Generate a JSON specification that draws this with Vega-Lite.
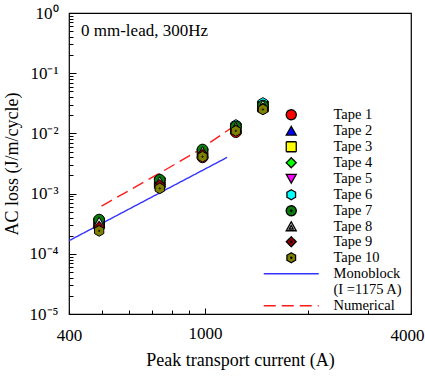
{
  "$schema": "https://vega.github.io/schema/vega-lite/v6.json",
  "width": 342,
  "height": 301,
  "autosize": {"type": "none"},
  "padding": {"left": 69, "top": 13, "right": 14, "bottom": 62},
  "title": {"text": "0 mm-lead, 300Hz", "anchor": "start", "orient": "top", "frame": "group", "offset": -36, "dx": 12, "font": "Liberation Serif", "fontSize": 17, "fontWeight": "normal", "color": "black"},
  "datasets": {
    "tapes": [
      {"current": 490, "loss": 0.00031, "series": "Tape 1"},
      {"current": 490, "loss": 0.00033, "series": "Tape 2"},
      {"current": 490, "loss": 0.00032, "series": "Tape 3"},
      {"current": 490, "loss": 0.00035, "series": "Tape 4"},
      {"current": 490, "loss": 0.00030, "series": "Tape 5"},
      {"current": 490, "loss": 0.00034, "series": "Tape 6"},
      {"current": 490, "loss": 0.00037, "series": "Tape 7"},
      {"current": 490, "loss": 0.00033, "series": "Tape 8"},
      {"current": 490, "loss": 0.00028, "series": "Tape 9"},
      {"current": 490, "loss": 0.00024, "series": "Tape 10"},
      {"current": 737, "loss": 0.00145, "series": "Tape 1"},
      {"current": 737, "loss": 0.00155, "series": "Tape 2"},
      {"current": 737, "loss": 0.0015, "series": "Tape 3"},
      {"current": 737, "loss": 0.00175, "series": "Tape 4"},
      {"current": 737, "loss": 0.0015, "series": "Tape 5"},
      {"current": 737, "loss": 0.0016, "series": "Tape 6"},
      {"current": 737, "loss": 0.0017, "series": "Tape 7"},
      {"current": 737, "loss": 0.00155, "series": "Tape 8"},
      {"current": 737, "loss": 0.0014, "series": "Tape 9"},
      {"current": 737, "loss": 0.00122, "series": "Tape 10"},
      {"current": 983, "loss": 0.0040, "series": "Tape 1"},
      {"current": 983, "loss": 0.0048, "series": "Tape 2"},
      {"current": 983, "loss": 0.0046, "series": "Tape 3"},
      {"current": 983, "loss": 0.0053, "series": "Tape 4"},
      {"current": 983, "loss": 0.0046, "series": "Tape 5"},
      {"current": 983, "loss": 0.0050, "series": "Tape 6"},
      {"current": 983, "loss": 0.0054, "series": "Tape 7"},
      {"current": 983, "loss": 0.0049, "series": "Tape 8"},
      {"current": 983, "loss": 0.0045, "series": "Tape 9"},
      {"current": 983, "loss": 0.0041, "series": "Tape 10"},
      {"current": 1230, "loss": 0.0105, "series": "Tape 1"},
      {"current": 1230, "loss": 0.0125, "series": "Tape 2"},
      {"current": 1230, "loss": 0.012, "series": "Tape 3"},
      {"current": 1230, "loss": 0.013, "series": "Tape 4"},
      {"current": 1230, "loss": 0.012, "series": "Tape 5"},
      {"current": 1230, "loss": 0.0138, "series": "Tape 6"},
      {"current": 1230, "loss": 0.013, "series": "Tape 7"},
      {"current": 1230, "loss": 0.0125, "series": "Tape 8"},
      {"current": 1230, "loss": 0.0115, "series": "Tape 9"},
      {"current": 1230, "loss": 0.011, "series": "Tape 10"},
      {"current": 1476, "loss": 0.026, "series": "Tape 1"},
      {"current": 1476, "loss": 0.029, "series": "Tape 2"},
      {"current": 1476, "loss": 0.028, "series": "Tape 3"},
      {"current": 1476, "loss": 0.030, "series": "Tape 4"},
      {"current": 1476, "loss": 0.028, "series": "Tape 5"},
      {"current": 1476, "loss": 0.032, "series": "Tape 6"},
      {"current": 1476, "loss": 0.029, "series": "Tape 7"},
      {"current": 1476, "loss": 0.029, "series": "Tape 8"},
      {"current": 1476, "loss": 0.026, "series": "Tape 9"},
      {"current": 1476, "loss": 0.025, "series": "Tape 10"}
    ],
    "lines": [
      {"current": 400, "loss": 0.000165, "series": "Monoblock"},
      {"current": 1160, "loss": 0.0040, "series": "Monoblock"},
      {"current": 498, "loss": 0.00062, "series": "Numerical"},
      {"current": 721, "loss": 0.00204, "series": "Numerical"},
      {"current": 944, "loss": 0.00497, "series": "Numerical"},
      {"current": 1195, "loss": 0.0124, "series": "Numerical"}
    ]
  },
  "encoding": {
    "x": {
      "field": "current", "type": "quantitative",
      "scale": {"type": "log", "domain": [400, 4000], "nice": false},
      "axis": {
        "title": "Peak transport current (A)",
        "values": [400, 500, 600, 700, 800, 900, 1000, 2000, 3000, 4000],
        "labelExpr": "(datum.value == 400 || datum.value == 1000 || datum.value == 4000) ? format(datum.value, 'd') : ''",
        "tickSize": {"condition": {"test": "datum.value == 1000", "value": -6}, "value": -4},
        "labelOffset": {"condition": {"test": "datum.value == 4000", "value": -4}, "value": 0},
        "labelPadding": 17,
        "titlePadding": 8
      }
    },
    "y": {
      "field": "loss", "type": "quantitative",
      "scale": {"type": "log", "domain": [0.00001, 1], "nice": false},
      "axis": {
        "title": "AC loss (J/m/cycle)",
        "values": [0.00001, 0.00002, 0.00003, 0.00004, 0.00005, 0.00006, 0.00007, 0.00008, 0.00009, 0.0001, 0.0002, 0.0003, 0.0004, 0.0005, 0.0006, 0.0007, 0.0008, 0.0009, 0.001, 0.002, 0.003, 0.004, 0.005, 0.006, 0.007, 0.008, 0.009, 0.01, 0.02, 0.03, 0.04, 0.05, 0.06, 0.07, 0.08, 0.09, 0.1, 0.2, 0.3, 0.4, 0.5, 0.6, 0.7, 0.8, 0.9, 1],
        "labelExpr": "abs(log(datum.value)/LN10 - round(log(datum.value)/LN10)) < 0.000001 ? '10' + (round(log(datum.value)/LN10) < 0 ? '⁻' : '') + ['⁰','¹','²','³','⁴','⁵','⁶'][abs(round(log(datum.value)/LN10))] : ''",
        "tickSize": {"condition": {"test": "abs(log(datum.value)/LN10 - round(log(datum.value)/LN10)) < 0.000001", "value": -7}, "value": -4},
        "labelPadding": 18,
        "titlePadding": 8
      }
    }
  },
  "layer": [
    {
      "data": {"name": "lines"},
      "mark": {"type": "line", "strokeWidth": 1.4, "clip": true},
      "encoding": {
        "detail": {"field": "series"},
        "stroke": {
          "field": "series", "type": "nominal",
          "scale": {"domain": ["Tape 1","Tape 2","Tape 3","Tape 4","Tape 5","Tape 6","Tape 7","Tape 8","Tape 9","Tape 10","Monoblock","Numerical"],
                    "range": ["#000000","#000000","#000000","#000000","#000000","#000000","#000000","#000000","#000000","#000000","#3333ff","#ff1a1a"]},
          "legend": {"title": null}
        },
        "strokeDash": {
          "field": "series", "type": "nominal",
          "scale": {"domain": ["Tape 1","Tape 2","Tape 3","Tape 4","Tape 5","Tape 6","Tape 7","Tape 8","Tape 9","Tape 10","Monoblock","Numerical"],
                    "range": [[1,0],[1,0],[1,0],[1,0],[1,0],[1,0],[1,0],[1,0],[1,0],[1,0],[1,0],[12,6]]},
          "legend": {"title": null}
        }
      }
    },
    {
      "data": {"name": "tapes"},
      "mark": {"type": "point", "filled": true, "size": 115, "strokeWidth": 1, "opacity": 1},
      "encoding": {
        "fill": {
          "field": "series", "type": "nominal",
          "scale": {"domain": ["Tape 1","Tape 2","Tape 3","Tape 4","Tape 5","Tape 6","Tape 7","Tape 8","Tape 9","Tape 10","Monoblock","Numerical"],
                    "range": ["#ff0000","#0000ff","#ffff00","#00ff00","#ff00ff","#00ffff","#0b7a0b","#e6e6e6","#8b0000","#808000","transparent","transparent"]},
          "legend": {
            "title": null,
            "orient": "none",
            "legendX": 215,
            "legendY": 94.5,
            "padding": 0,
            "rowPadding": 0,
            "labelOffset": 35,
            "labelFont": "Liberation Serif",
            "labelFontSize": 14.5,
            "labelColor": "black",
            "symbolStrokeWidth": 1.3,
            "symbolSize": 100,
            "labelExpr": "datum.value == 'Monoblock' ? ['Monoblock', '(I =1175 A)'] : datum.label",
            "encode": {
              "labels": {"update": {"dy": {"signal": "datum.value == 'Monoblock' ? 7.5 : 0"}, "lineHeight": {"value": 15}}}
            }
          }
        },
        "shape": {
          "field": "series", "type": "nominal",
          "scale": {"domain": ["Tape 1","Tape 2","Tape 3","Tape 4","Tape 5","Tape 6","Tape 7","Tape 8","Tape 9","Tape 10","Monoblock","Numerical"],
                    "range": ["circle","triangle-up","square","diamond","triangle-down",
                              "M0,-1L0.866,-0.5L0.866,0.5L0,1L-0.866,0.5L-0.866,-0.5Z",
                              "M-1,0A1,1 0 1,1 1,0A1,1 0 1,1 -1,0ZM-0.12,0A0.12,0.12 0 1,1 0.12,0A0.12,0.12 0 1,1 -0.12,0Z",
                              "M0,-1L1,0.8L-1,0.8ZM0,-0.25L0.4,0.45L-0.4,0.45Z",
                              "M0,-1L1,0L0,1L-1,0ZM-0.12,0A0.12,0.12 0 1,1 0.12,0A0.12,0.12 0 1,1 -0.12,0Z",
                              "M0,-1L0.866,-0.5L0.866,0.5L0,1L-0.866,0.5L-0.866,-0.5ZM-0.12,0A0.12,0.12 0 1,1 0.12,0A0.12,0.12 0 1,1 -0.12,0Z",
                              "M-5.5,0L5.5,0",
                              "M-5.5,0L5.5,0"]},
          "legend": {"title": null}
        },
        "stroke": {
          "field": "series", "type": "nominal",
          "scale": {"domain": ["Tape 1","Tape 2","Tape 3","Tape 4","Tape 5","Tape 6","Tape 7","Tape 8","Tape 9","Tape 10","Monoblock","Numerical"],
                    "range": ["#000000","#000000","#000000","#000000","#000000","#000000","#000000","#000000","#000000","#000000","#3333ff","#ff1a1a"]},
          "legend": {"title": null}
        }
      }
    }
  ],
  "config": {
    "view": {"stroke": "black", "strokeWidth": 1.2},
    "axis": {
      "grid": false,
      "domain": false,
      "tickColor": "black",
      "tickWidth": 1,
      "labelFont": "Liberation Serif",
      "labelFontSize": 17,
      "labelColor": "black",
      "titleFont": "Liberation Serif",
      "titleFontSize": 18,
      "titleFontWeight": "normal",
      "titleColor": "black",
      "labelOverlap": false,
      "labelFlush": false
    },
    "legend": {"labelFont": "Liberation Serif", "labelFontSize": 14.5}
  }
}
